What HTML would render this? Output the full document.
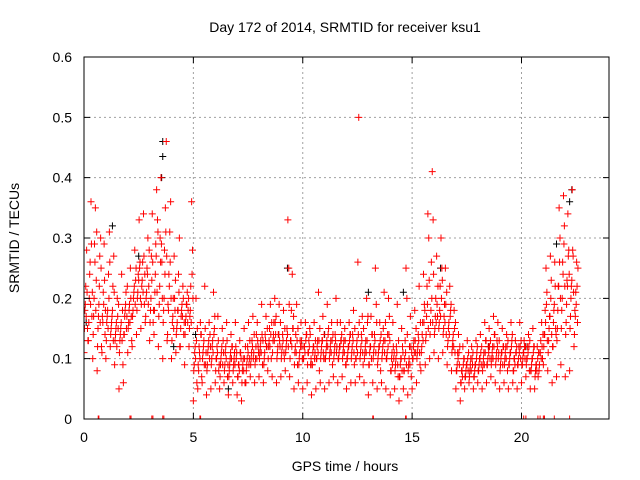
<!DOCTYPE html>
<html><head><meta charset="utf-8"><style>
body{margin:0;background:#fff}
svg{display:block;font-family:"Liberation Sans",sans-serif}
</style></head><body>
<svg id="chart" width="640" height="480" viewBox="0 0 640 480" xmlns="http://www.w3.org/2000/svg">
<rect width="640" height="480" fill="#fff"/>
<text x="345" y="32" font-size="14" text-anchor="middle">Day 172 of 2014, SRMTID for receiver ksu1</text>
<text x="345" y="471" font-size="14" text-anchor="middle">GPS time / hours</text>
<text x="19" y="238" font-size="14" text-anchor="middle" transform="rotate(-90 19 238)">SRMTID / TECUs</text>
<defs><clipPath id="pc"><rect x="84" y="57" width="525" height="362"/></clipPath></defs>
<g id="grid"></g><g id="marks" clip-path="url(#pc)"></g><g id="axes"></g>
</svg>
<script>
const xTicks=[0,5,10,15,20];
const yTicks=[0,0.1,0.2,0.3,0.4,0.5,0.6];
const yTickLabels=["0","0.1","0.2","0.3","0.4","0.5","0.6"];
const redRowStart=0, redRowStep=0.2;
const redRows=[
[11,18,22,28,15],[13,20,26,36,17],[10,17,29,35,23],[8,15,19,27,30],[12,17,21,29,14],
[10,16,18,24,31],[12,15,17,22,27],[9,14,16,20,15],[5,13,15,24,18],[6,14,18,21,17],
[11,16,19,25,17],[12,18,21,28,23],[14,20,24,33,26],[15,22,26,34,19],[16,20,25,30,22],
[13,18,27,34,16],[14,21,29,38,33],[12,19,30,40,26],[10,18,28,35,46],[13,19,24,31,36],
[10,16,20,27,18],[11,15,18,24,30],[12,17,19,22,14],[9,16,19,21,18],[12,17,22,36,28],
[3,9,12,20,6],[5,8,11,16,14],[6,11,13,22,9],[4,9,12,16,14],[5,10,13,21,15],
[6,10,12,17,8],[5,9,11,15,13],[6,9,12,16,7],[4,8,10,14,12],[6,9,11,16,10],
[4,7,9,13,11],[3,8,10,15,6],[6,9,12,16,10],[7,10,13,17,11],[6,10,14,16,12],
[7,11,13,19,9],[6,10,14,17,12],[8,12,15,19,10],[7,13,16,20,14],[6,11,14,19,12],
[7,11,14,18,10],[8,12,15,33,25],[7,13,18,24,15],[5,11,14,19,9],[6,10,13,16,12],
[5,10,12,16,14],[6,11,13,15,9],[4,9,12,16,11],[5,10,13,21,8],[6,11,13,17,10],
[5,10,12,19,14],[6,11,13,16,9],[7,11,14,20,12],[6,10,12,16,13],[7,11,13,15,9],
[5,10,12,16,14],[6,11,14,18,9],[6,10,13,26,50],[7,11,14,17,9],[6,11,13,20,16],
[4,9,12,17,14],[6,11,14,25,19],[5,10,12,16,8],[6,11,15,21,13],[5,10,14,20,17],
[4,8,11,16,10],[5,9,12,19,7],[3,7,10,15,12],[5,8,13,25,20],[4,9,12,17,7],
[5,10,13,18,11],[6,11,14,22,9],[8,12,16,24,19],[9,14,22,34,30],[10,16,26,41,33],
[11,15,20,27,17],[10,16,22,30,25],[11,15,19,25,14],[9,13,16,22,18],[8,12,14,18,11],
[5,8,11,14,9],[3,6,8,12,10],[5,7,9,13,8],[6,8,10,12,9],[5,7,9,13,11],
[6,8,10,14,9],[5,9,11,16,13],[6,9,12,15,10],[7,10,12,17,14],[6,10,13,16,11],
[5,9,11,15,12],[6,10,12,14,8],[5,9,11,16,13],[6,8,10,13,11],[5,9,12,16,10],
[6,9,11,13,10],[7,10,12,14,8],[5,8,10,15,12],[5,8,9,12,7],[8,11,13,16,10],
[9,14,18,25,21],[8,13,17,27,23],[6,12,18,26,15],[7,15,22,35,30],[9,18,26,37,32],
[7,16,23,34,28],[8,17,22,38,27],[12,18,21,26,16]
];
const redRows2Start=0.1;
const redRows2=[
[15,19,17,21,13],[16,24,19,29,21],[14,20,26,18,31],[12,17,22,16,25],[11,16,19,23,18],
[13,17,15,20,26],[14,16,18,13,21],[13,15,12,17,19],[11,14,16,13,9],[14,17,19,15,22],
[15,18,16,20,13],[17,20,22,19,25],[18,21,23,25,20],[19,23,21,27,24],[17,21,24,19,28],
[16,20,23,26,18],[18,24,27,21,31],[17,22,26,29,20],[16,20,24,31,27],[14,18,22,26,20],
[13,17,15,20,23],[14,16,18,21,12],[15,18,17,20,16],[14,17,19,16,20],[15,18,16,24,20],
[8,11,10,13,15],[9,12,10,14,7],[10,12,9,15,11],[8,11,13,10,12],[9,12,11,14,17],
[8,10,11,13,9],[7,10,12,9,11],[8,11,10,13,9],[7,9,11,10,12],[8,10,9,12,11],
[7,9,8,11,10],[6,9,8,10,12],[8,10,11,9,13],[9,11,12,10,14],[9,12,10,13,11],
[10,12,11,14,13],[9,11,13,12,15],[10,13,12,14,16],[11,14,13,16,17],[10,12,14,13,16],
[10,12,13,11,15],[11,13,14,12,19],[10,13,12,15,17],[9,12,11,13,15],[9,11,12,13,10],
[10,12,11,13,14],[9,11,12,14,10],[9,11,12,10,13],[10,12,11,13,15],[10,12,13,11,14],
[10,11,13,12,15],[10,12,11,13,14],[10,12,13,11,16],[10,11,12,13,14],[10,12,11,13,9],
[10,11,12,13,14],[10,12,13,11,15],[10,12,11,14,16],[10,12,13,11,15],[10,12,11,13,17],
[9,11,12,10,14],[10,12,13,11,16],[9,11,12,13,14],[10,12,13,11,16],[10,11,12,14,13],
[8,10,9,12,11],[8,10,11,9,13],[7,9,10,8,11],[8,10,11,9,14],[8,10,9,12,11],
[10,12,11,13,15],[10,12,13,11,16],[11,14,13,16,18],[13,17,19,15,23],[14,18,20,16,24],
[14,17,16,19,22],[15,18,17,20,23],[14,17,16,19,21],[12,15,14,17,19],[11,13,12,15,16],
[8,9,10,11,12],[6,8,7,9,10],[7,8,9,10,11],[7,9,8,10,11],[7,8,9,10,12],
[8,9,10,11,12],[8,10,9,11,13],[9,10,11,12,13],[9,11,10,12,14],[9,11,12,10,13],
[8,10,11,9,12],[9,11,10,12,13],[9,10,11,12,14],[8,10,9,11,12],[9,10,11,12,13],
[9,10,11,12,12],[9,10,11,12,13],[8,9,10,11,12],[7,9,8,10,11],[9,11,10,12,14],
[12,14,16,19,13],[11,15,17,20,14],[12,16,19,22,14],[13,18,22,26,20],[15,20,24,29,22],
[14,19,22,27,24],[15,20,23,28,21],[14,17,19,22,25]
];
const blackTimes=[3.6,3.6,3.55,22.3,22.2,9.3,0.1,1.3,2.5,5.1,6.6,8.9,11.0,13.0,16.3,18.5,20.2,21.6,4.1,14.6];
const blackValues=[0.46,0.435,0.40,0.38,0.36,0.25,0.16,0.32,0.27,0.14,0.05,0.14,0.14,0.21,0.25,0.12,0.12,0.29,0.12,0.21];
const zeroTimes=[0.65,0.68,2.1,2.15,3.1,3.15,3.6,3.65,5.3,5.33,13.2,13.23,14.7,14.73,20.0,20.1,20.2,20.75,20.85,21.0,21.05,21.5,22.2];
const X0=84,X1=609,Y0=419,Y1=57;
const sx=t=>X0+(t/24)*(X1-X0);
const sy=v=>Y0-(v/0.6)*(Y0-Y1);
const NS="http://www.w3.org/2000/svg";
function mk(tag,attrs,parent){const e=document.createElementNS(NS,tag);for(const k in attrs)e.setAttribute(k,attrs[k]);parent.appendChild(e);return e;}
const grid=document.getElementById('grid'),marks=document.getElementById('marks'),axes=document.getElementById('axes');
xTicks.forEach(t=>{
  if(t>0){const g=mk('line',{x1:sx(t),x2:sx(t),y1:Y1,y2:Y0,stroke:'#a0a0a0','stroke-dasharray':'2,3'},grid);
  
  }
  const tk=mk('path',{d:`M${sx(t)},${Y0}v-6M${sx(t)},${Y1}v6`,stroke:'#000'},axes);
  
  
  const l=mk('text',{x:sx(t),y:Y0+23,'font-size':14,'text-anchor':'middle'},axes);l.textContent=t;
  
  
});
yTicks.forEach((v,i)=>{
  if(v>0&&v<0.6){const g=mk('line',{x1:X0,x2:X1,y1:sy(v),y2:sy(v),stroke:'#a0a0a0','stroke-dasharray':'2,3'},grid);
  
  }
  const tk=mk('path',{d:`M${X0},${sy(v)}h6M${X1},${sy(v)}h-6`,stroke:'#000'},axes);
  
  
  const l=mk('text',{x:X0-12,y:sy(v)+5,'font-size':14,'text-anchor':'end'},axes);l.textContent=yTickLabels[i];
  
  
});
function plus(t,v,col,name){
  const x=sx(t),y=sy(v);
  const p=mk('path',{d:`M${x-3.5},${y}h7M${x},${y-3.5}v7`,stroke:col,'stroke-width':1},marks);
  
  
}
blackTimes.forEach((t,i)=>plus(t,blackValues[i],'#000','black-point'));
redRows.forEach((row,i)=>row.forEach((v,k)=>plus(redRowStart+i*redRowStep+k*0.04,v/100,'#ff0000','red-point')));
redRows2.forEach((row,i)=>row.forEach((v,k)=>plus(redRows2Start+i*redRowStep+k*0.04-0.08,v/100,'#ff0000','red-point')));
zeroTimes.forEach(t=>plus(t,0,'#ff0000','red-zero-point'));
const fr=mk('rect',{x:X0,y:Y1,width:X1-X0,height:Y0-Y1,fill:'none',stroke:'#000'},axes);


</script>
</body></html>
